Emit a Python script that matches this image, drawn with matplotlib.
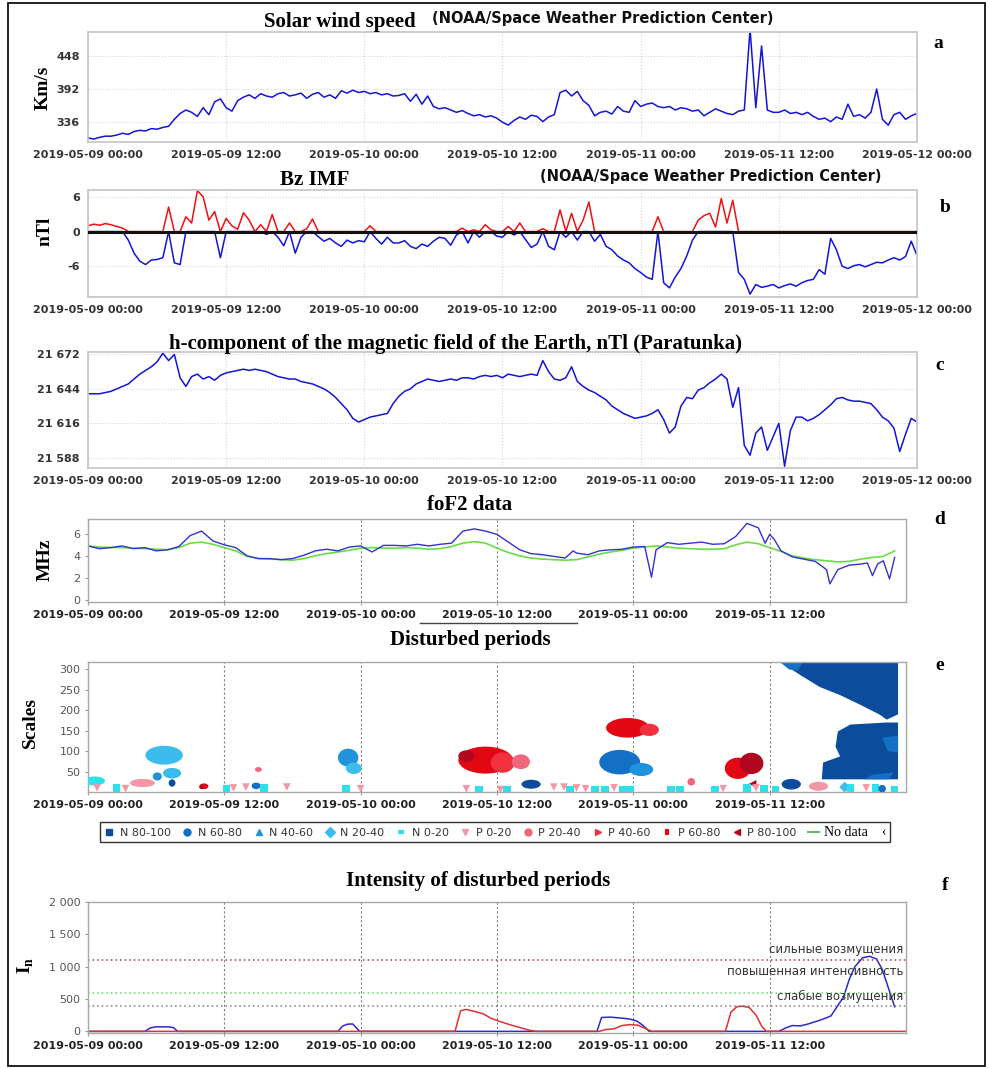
import numpy as np
import matplotlib.pyplot as plt
from matplotlib.patches import Ellipse, Polygon, Rectangle
from matplotlib.lines import Line2D

W, H = 988, 1069
SERIF = 'Liberation Serif'

# time axis: hours since 2019-05-09 00:00 (half-hour samples for panels a-c)
t_half = np.arange(0, 72.5, 0.5)
tick_hours = [0, 12, 24, 36, 48, 60, 72]
tick_dates = ['2019-05-09 00:00', '2019-05-09 12:00', '2019-05-10 00:00',
              '2019-05-10 12:00', '2019-05-11 00:00', '2019-05-11 12:00',
              '2019-05-12 00:00']

# a: solar wind speed, km/s
wind_speed = [308, 306, 309, 311, 311, 313, 316, 314, 319, 321, 320, 324,
              323, 326, 328, 340, 350, 356, 352, 345, 360, 348, 370, 375,
              360, 354, 372, 378, 382, 376, 384, 380, 378, 384, 386, 380,
              382, 385, 376, 383, 386, 378, 382, 376, 389, 385, 390, 386,
              388, 384, 386, 382, 384, 380, 381, 384, 371, 383, 366, 380,
              362, 358, 360, 356, 352, 355, 350, 346, 348, 344, 346, 342,
              335, 330, 338, 344, 340, 347, 345, 336, 344, 348, 386, 390,
              380, 388, 372, 364, 346, 352, 354, 349, 362, 354, 352, 372,
              362, 366, 368, 362, 360, 362, 356, 360, 358, 354, 356, 346,
              352, 358, 354, 350, 348, 354, 356, 495, 360, 466, 356, 352,
              352, 356, 350, 352, 348, 352, 345, 340, 342, 336, 344, 340,
              366, 345, 348, 342, 352, 392, 340, 330, 348, 352, 340, 346,
              350]
wind_ticks = [336, 392, 448]

# b: Bz IMF, nT
bz_imf = [1.0, 1.3, 1.1, 1.4, 1.2, 0.9, 0.6, -1.5, -3.8, -5.2, -5.8, -5.0,
          -4.9, -4.6, 4.3, -5.5, -5.8, 2.6, 1.5, 7.2, 6.1, 2.0, 3.5, -4.6,
          2.3, 1.0, 0.4, 3.3, 2.0, 0.0, 1.2, -0.5, 3.0, -1.0, -2.5, 1.5,
          -3.8, -1.0, 0.5, 2.2, -0.9, -1.7, -1.2, -2.0, -2.6, -1.5, -2.0, -1.6,
          -1.8, 1.0, -1.2, -2.2, -1.0, -2.0, -2.0, -1.6, -2.6, -3.0, -2.2, -2.6,
          -1.7, -1.0, -1.2, -2.4, -0.6, 0.6, -2.0, 0.3, -1.0, 1.2, 0.3, -0.8,
          -1.0, 0.9, -0.6, 1.5, -1.4, -2.8, -2.2, 0.5, -2.6, -3.2, 3.8, -1.0,
          3.2, -1.5, 2.0, 5.2, -1.7, -0.5, -2.6, -3.2, -4.3, -5.0, -5.5, -6.5,
          -7.2, -8.0, -8.4, 2.6, -9.0, -9.9, -8.0, -6.5, -4.3, -1.5, 2.0, 2.8,
          3.2, 0.8, 5.8, 1.5, 5.5, -7.2, -8.4, -11.0, -9.3, -9.8, -9.6, -9.3,
          -9.9, -9.5, -9.2, -9.6, -9.0, -8.6, -8.4, -6.7, -7.5, -1.2, -3.2, -6.1,
          -6.5, -6.0, -5.8, -6.2, -5.8, -5.4, -5.5, -5.0, -4.6, -5.0, -4.4, -1.7,
          -4.2]
bz_ticks = [-6, 0, 6]

# c: H-component, Paratunka, nT
h_component = [21640, 21640, 21640, 21641, 21642, 21644, 21646, 21648, 21652, 21656,
               21659, 21662, 21666, 21673, 21667, 21672, 21653, 21646, 21654, 21656,
               21652, 21654, 21651, 21655, 21657, 21658, 21659, 21660, 21659, 21660,
               21659, 21658, 21656, 21654, 21653, 21652, 21652, 21650, 21649, 21648,
               21646, 21644, 21641, 21637, 21632, 21627, 21620, 21617, 21619, 21621,
               21622, 21623, 21624, 21632, 21638, 21642, 21644, 21648, 21650, 21652,
               21651, 21650, 21651, 21652, 21651, 21653, 21653, 21652, 21654, 21655,
               21654, 21655, 21653, 21656, 21655, 21654, 21655, 21656, 21655, 21667,
               21658, 21652, 21651, 21653, 21662, 21650, 21646, 21643, 21641, 21638,
               21635, 21630, 21627, 21624, 21622, 21620, 21621, 21622, 21624, 21627,
               21619, 21608, 21613, 21630, 21637, 21636, 21643, 21645, 21649, 21652,
               21656, 21652, 21629, 21645, 21598, 21590, 21608, 21613, 21594, 21605,
               21616, 21581, 21610, 21621, 21621, 21618, 21620, 21623, 21627, 21631,
               21636, 21637, 21635, 21634, 21634, 21633, 21632, 21627, 21621, 21618,
               21612, 21593, 21607, 21620, 21617]
h_ticks = [21588, 21616, 21644, 21672]
h_ticklabels = ['21 588', '21 616', '21 644', '21 672']

# d: foF2, MHz (observed and median)
fof2_t = [0, 1, 2, 3, 4, 5, 6, 7, 8, 9, 10, 11, 12, 13, 14, 15, 16, 17, 18, 19,
          20, 21, 22, 23, 24, 25, 26, 27, 28, 29, 30, 31, 32, 33, 34, 35, 36, 37,
          38, 39, 40, 41, 42, 42.7, 43, 44, 45, 46, 47, 48, 49, 49.6, 50, 51, 52,
          53, 54, 55, 56, 57, 58, 59, 59.6, 60, 60.4, 61, 62, 63, 64, 65, 65.3, 66,
          67, 68, 68.6, 69.05, 69.5, 70, 70.55, 71]
fof2_obs = [4.95, 4.7, 4.8, 4.95, 4.7, 4.8, 4.5, 4.6, 4.9, 5.9, 6.3, 5.4, 5.05,
            4.8, 4.05, 3.8, 3.8, 3.7, 3.8, 4.1, 4.5, 4.65, 4.5, 4.85, 4.95, 4.4,
            5.0, 5.0, 4.95, 5.1, 4.95, 5.1, 5.2, 6.3, 6.5, 6.3, 6.0, 5.3, 4.6,
            4.25, 4.15, 4.0, 3.85, 4.5, 4.3, 4.15, 4.5, 4.6, 4.65, 4.85, 4.9, 2.1,
            4.6, 5.25, 5.1, 5.2, 5.3, 5.1, 5.15, 5.8, 7.0, 6.6, 5.2, 6.0, 5.55, 4.5,
            3.95, 3.75, 3.55, 2.8, 1.5, 2.8, 3.2, 3.3, 3.4, 2.25, 3.3, 3.6, 1.95, 3.9]
fof2_median = [4.95, 4.85, 4.8, 4.8, 4.75, 4.7, 4.65, 4.6, 4.8, 5.2, 5.3, 5.1,
               4.8, 4.5, 4.0, 3.8, 3.75, 3.7, 3.65, 3.8, 4.05, 4.25, 4.4, 4.55,
               4.75, 4.8, 4.75, 4.75, 4.8, 4.75, 4.65, 4.7, 4.9, 5.2, 5.35, 5.2,
               4.75, 4.35, 4.05, 3.85, 3.75, 3.7, 3.65, 3.7, 3.95, 4.2, 4.4, 4.55,
               4.75, 4.85, 4.95, 4.85, 4.75, 4.7, 4.65, 4.65, 4.7, 5.05, 5.3, 5.15,
               4.8, 4.45, 4.05, 3.85, 3.7, 3.6, 3.5, 3.55, 3.75, 3.9, 4.0, 4.5]
fof2_median_t = list(range(72))

# e: disturbed periods (classes, blobs, small marks, big regions)
cls_names = ['N 80-100', 'N 60-80', 'N 40-60', 'N 20-40', 'N 0-20',
             'P 0-20', 'P 20-40', 'P 40-60', 'P 60-80', 'P 80-100']
cls_colors = ['#0b4c9c', '#1470c4', '#1f94dc', '#3cbcec', '#2ee0ea',
              '#f397a8', '#f0677a', '#f2303e', '#e30613', '#b0061f']
cls_markers = ['s', 'o', '^', 'D', '_', 'v', 'o', '>', '|', '<']

blob_cls = [3, 2, 3, 0, 4, 5, 8, 9, 6, 1,
            2, 3, 8, 9, 7, 6, 0, 8, 7, 1,
            2, 8, 9, 0, 5]
blob_t = [6.7, 6.1, 7.4, 7.4, 0.6, 4.8, 10.2, 10.0, 15.0, 14.8,
          22.9, 23.4, 35.0, 33.3, 36.5, 38.1, 39.0, 47.5, 49.4, 46.8,
          48.7, 57.2, 58.4, 61.9, 64.3]
blob_s = [90, 38, 46, 22, 27, 22, 14, 12, 55, 15,
          84, 58, 78, 88, 72, 74, 19, 157, 152, 73,
          55, 58, 70, 19, 14]
blob_w = [3.3, 0.8, 1.6, 0.6, 1.8, 2.2, 0.8, 0.4, 0.6, 0.8,
          1.8, 1.4, 4.8, 1.4, 2.1, 1.6, 1.7, 3.8, 1.7, 3.6,
          2.1, 2.3, 2.1, 1.7, 1.7]
blob_h = [46, 20, 26, 18, 22, 20, 14, 10, 12, 16,
          44, 28, 66, 28, 50, 36, 22, 48, 30, 60,
          32, 52, 52, 26, 22]

mark_cls = [5, 4, 5, 4, 5, 5, 4, 5, 4, 5, 5, 4, 5, 4, 5, 5, 4, 5, 5, 4,
            4, 5, 4, 4, 4, 4, 6, 4, 5, 9, 4, 5, 4, 4, 3, 4, 5, 4, 1, 4]
mark_t = [0.8, 2.5, 3.3, 12.2, 12.8, 13.9, 15.5, 17.5, 22.7, 24.0, 33.3, 34.4,
          36.3, 36.9, 41.0, 41.9, 42.4, 43.0, 43.8, 44.6, 45.5, 46.3, 47.1, 47.7,
          51.3, 52.1, 53.1, 55.2, 55.9, 58.5, 58.0, 58.8, 59.5, 60.5, 66.6, 67.1,
          68.5, 69.3, 69.9, 71.0]
mark_s = [10, 10, 8, 8, 10, 12, 10, 12, 8, 8, 8, 6, 6, 6, 12, 12, 6, 10, 8, 6,
          6, 10, 6, 6, 6, 6, 25, 6, 8, 20, 10, 10, 8, 6, 12, 10, 10, 10, 8, 6]

upper_t = [60.9, 71.3, 71.3, 70.3, 69.7, 68.0, 66.2, 64.4, 62.7]
upper_s = [318, 318, 190, 177, 189, 213, 237, 257, 286]
upper_n60_t = [60.9, 62.9, 62.5, 61.7]
upper_n60_s = [318, 318, 297, 300]
lower_t = [70.3, 71.3, 71.3, 64.6, 64.6, 64.7, 66.2, 65.8, 66.0, 67.1]
lower_s = [170, 170, 31, 31, 36, 72, 87, 111, 148, 165]
lower_n60_t = [[69.9, 71.3, 71.3, 70.4], [68.4, 70.5, 70.9, 69.0]]
lower_n60_s = [[133, 138, 96, 100], [31, 31, 48, 42]]

# f: intensity of disturbed periods
int_blue_t = [0, 5.0, 5.5, 6.0, 7.0, 7.5, 7.9, 22.0, 22.4, 22.8, 23.3, 23.6, 23.9,
              44.8, 45.2, 46.0, 47.0, 47.7, 48.3, 48.8, 49.4, 60.8, 61.5, 62.0,
              62.7, 63.3, 64.3, 65.0, 65.4, 66.0, 66.5, 67.0, 67.5, 68.2, 68.8,
              69.4, 69.9, 70.4, 71.0]
int_blue_v = [0, 0, 55, 70, 70, 60, 0, 0, 80, 110, 115, 60, 0,
              0, 215, 220, 205, 190, 160, 100, 0, 0, 60, 90,
              85, 110, 165, 210, 240, 400, 530, 800, 1000, 1140, 1160,
              1120, 960, 700, 380]
int_red_t = [0, 32.3, 32.8, 33.3, 34.0, 34.8, 35.5, 36.3, 37.2, 38.0, 38.8, 39.4,
             45.0, 45.6, 46.3, 47.0, 47.7, 48.4, 49.0, 49.6, 56.1, 56.6, 57.1,
             57.6, 58.2, 58.8, 59.3, 59.7, 72]
int_red_v = [0, 0, 320, 340, 310, 270, 200, 150, 100, 60, 20, 0,
             0, 30, 40, 90, 105, 95, 50, 0, 0, 300, 380,
             390, 370, 250, 80, 0, 0]
levels = [1100, 600, 400]
level_colors = ['#b03a3a', '#55dd55', '#8a7090']
level_texts = ['сильные возмущения', 'повышенная интенсивность', 'слабые возмущения']
level_text_y = [1265, 925, 535]
int_ticks = [0, 500, 1000, 1500, 2000]
int_ticklabels = ['0', '500', '1 000', '1 500', '2 000']


def fx(px):
    return px / W


def fy(py):
    return 1 - py / H


def add_ax(x0, y0, x1, y1):
    return fig.add_axes([fx(x0), fy(y1), (x1 - x0) / W, (y1 - y0) / H])


def style_top(ax, ylim, yticks, ylabels):
    ax.set_xlim(0, 72)
    ax.set_ylim(*ylim)
    ax.set_xticks(tick_hours)
    ax.set_xticklabels(tick_dates)
    ax.set_yticks(yticks)
    ax.set_yticklabels(ylabels)
    ax.grid(True, color='#d6d6d6', linestyle=':', linewidth=0.8)
    ax.set_axisbelow(True)
    for sp in ax.spines.values():
        sp.set_color('#c8c8c8')
        sp.set_linewidth(1.3)
    ax.tick_params(length=0, labelsize=8, labelcolor='#333333', pad=6)
    for lab in ax.get_xticklabels() + ax.get_yticklabels():
        lab.set_fontweight('bold')


def style_bottom(ax, ylim, yticks, ylabels):
    ax.set_xlim(0, 72)
    ax.set_ylim(*ylim)
    ax.set_xticks(tick_hours[:-1])
    ax.set_xticklabels(tick_dates[:-1])
    ax.set_yticks(yticks)
    ax.set_yticklabels(ylabels)
    for h in tick_hours[:-1]:
        ax.axvline(h, color='#808080', linestyle=(0, (2, 2)), linewidth=0.8, zorder=0)
    for sp in ax.spines.values():
        sp.set_color('#a8a8a8')
        sp.set_linewidth(1.0)
    ax.tick_params(axis='y', length=2, labelsize=8, labelcolor='#555555', color='#999999')
    ax.tick_params(axis='x', length=2, labelsize=8, labelcolor='#222222', color='#999999', pad=4)
    for lab in ax.get_xticklabels():
        lab.set_fontweight('bold')


fig = plt.figure(figsize=(W / 100, H / 100), dpi=100)

# ---- a
ax = add_ax(88, 32, 917, 142)
ax.plot(t_half, wind_speed, color='#1414d8', lw=1.1)
style_top(ax, (301, 490), wind_ticks, [str(v) for v in wind_ticks])

# ---- b
ax = add_ax(88, 190, 917, 297)
bz = np.array(bz_imf)
ax.plot(t_half, np.minimum(bz, 0), color='#1414d8', lw=1.1)
ax.plot(t_half, np.maximum(bz, 0), color='#ee1111', lw=1.1)
ax.axhline(0, color='#111111', lw=2.2, zorder=3)
style_top(ax, (-11.5, 7.3), bz_ticks, [str(v) for v in bz_ticks])

# ---- c
ax = add_ax(88, 352, 917, 468)
ax.plot(t_half, h_component, color='#1414d8', lw=1.1)
style_top(ax, (21579.6, 21674), h_ticks, h_ticklabels)

# ---- d
ax = add_ax(88, 519, 906, 602)
ax.plot(fof2_median_t, fof2_median, color='#66dd44', lw=1.2)
ax.plot(fof2_t, fof2_obs, color='#3333cc', lw=1.0)
style_bottom(ax, (-0.15, 7.4), [0, 2, 4, 6], ['0', '2', '4', '6'])

# ---- e
ax = add_ax(88, 662, 906, 792)
ax.add_patch(Polygon(np.column_stack([upper_t, upper_s]), closed=True,
                     facecolor=cls_colors[0], edgecolor='none', zorder=2))
ax.add_patch(Polygon(np.column_stack([upper_n60_t, upper_n60_s]), closed=True,
                     facecolor=cls_colors[1], edgecolor='none', zorder=2))
ax.add_patch(Polygon(np.column_stack([lower_t, lower_s]), closed=True,
                     facecolor=cls_colors[0], edgecolor='none', zorder=2))
for pt, ps in zip(lower_n60_t, lower_n60_s):
    ax.add_patch(Polygon(np.column_stack([pt, ps]), closed=True,
                         facecolor=cls_colors[1], edgecolor='none', zorder=2))
for c, t, s, w, h in zip(blob_cls, blob_t, blob_s, blob_w, blob_h):
    ax.add_patch(Ellipse((t, s), w, h, facecolor=cls_colors[c], edgecolor='none', zorder=3))
scatter_marker = {4: 's', 5: 'v', 6: 'o', 3: 'D', 1: 'o', 9: '<'}
for c, t, s in zip(mark_cls, mark_t, mark_s):
    ax.scatter([t], [s], s=30, marker=scatter_marker[c], color=cls_colors[c],
               edgecolors='none', zorder=4)
style_bottom(ax, (0, 318), [50, 100, 150, 200, 250, 300],
             ['50', '100', '150', '200', '250', '300'])

handles = []
for name, col, mk in zip(cls_names, cls_colors, cls_markers):
    mew = 3 if mk in ('_', '|') else 1
    handles.append(Line2D([], [], linestyle='none', marker=mk, color=col,
                          markersize=5, markeredgewidth=mew))
handles.append(Line2D([], [], color='#66bb66', lw=1.5))
leg = fig.legend(handles, cls_names + ['No data    \u2039'], loc='center',
                 bbox_to_anchor=(fx(495), fy(832)), ncol=11, fontsize=8,
                 handlelength=1.0, handletextpad=0.45, columnspacing=1.0,
                 borderpad=0.35, fancybox=False, edgecolor='#333333', framealpha=1)
for txt in leg.get_texts():
    txt.set_color('#333333')
leg.get_texts()[-1].set_family(SERIF)
leg.get_texts()[-1].set_fontsize(10)
leg.get_texts()[-1].set_color('#000000')

# ---- f
ax = add_ax(88, 902, 906, 1033)
ax.plot(int_blue_t, int_blue_v, color='#2a2ad0', lw=1.1)
ax.plot(int_red_t, int_red_v, color='#e03030', lw=1.1)
for lv, lc in zip(levels, level_colors):
    ax.axhline(lv, color=lc, linestyle=(0, (1, 2)), lw=1.1)
for txt, ty in zip(level_texts, level_text_y):
    ax.text(71.8, ty, txt, ha='right', va='center', fontsize=8.5, color='#333333')
style_bottom(ax, (-25, 2000), int_ticks, int_ticklabels)

# ---- titles, axis names, panel letters
fig.text(fx(340), fy(22), 'Solar wind speed', ha='center', va='center',
         family=SERIF, fontweight='bold', fontsize=15)
fig.text(fx(432), fy(19), '(NOAA/Space Weather Prediction Center)', ha='left',
         va='center', fontweight='bold', fontsize=10.5, color='#111111')
fig.text(fx(315), fy(180), 'Bz IMF', ha='center', va='center',
         family=SERIF, fontweight='bold', fontsize=15)
fig.text(fx(540), fy(177), '(NOAA/Space Weather Prediction Center)', ha='left',
         va='center', fontweight='bold', fontsize=10.5, color='#111111')
fig.text(fx(455), fy(344), 'h-component of the magnetic field of the Earth, nTl (Paratunka)',
         ha='center', va='center', family=SERIF, fontweight='bold', fontsize=15)
fig.text(fx(470), fy(505), 'foF2 data', ha='center', va='center',
         family=SERIF, fontweight='bold', fontsize=15)
fig.text(fx(470), fy(640), 'Disturbed periods', ha='center', va='center',
         family=SERIF, fontweight='bold', fontsize=15)
fig.text(fx(478), fy(881), 'Intensity of disturbed periods', ha='center', va='center',
         family=SERIF, fontweight='bold', fontsize=15)

for name, x, y in [('Km/s', 43, 88), ('nTl', 45, 231), ('MHz', 45, 560),
                   ('Scales', 30, 722), ('I$_\\mathregular{n}$', 26, 965)]:
    fig.text(fx(x), fy(y), name, rotation=90, ha='center', va='center',
             family=SERIF, fontweight='bold', fontsize=14)

for letter, x, y in [('a', 938, 44), ('b', 945, 207), ('c', 940, 365),
                     ('d', 940, 519), ('e', 940, 665), ('f', 945, 885)]:
    fig.text(fx(x), fy(y), letter, ha='center', va='center',
             family=SERIF, fontweight='bold', fontsize=14)

fig.add_artist(Line2D([fx(420), fx(577)], [fy(623), fy(623)], color='#444444', lw=1))
fig.add_artist(Rectangle((fx(8), fy(1066)), fx(985) - fx(8), fy(3) - fy(1066),
                         fill=False, edgecolor='#111111', lw=1.3))

fig.savefig('out.png', dpi=100)
